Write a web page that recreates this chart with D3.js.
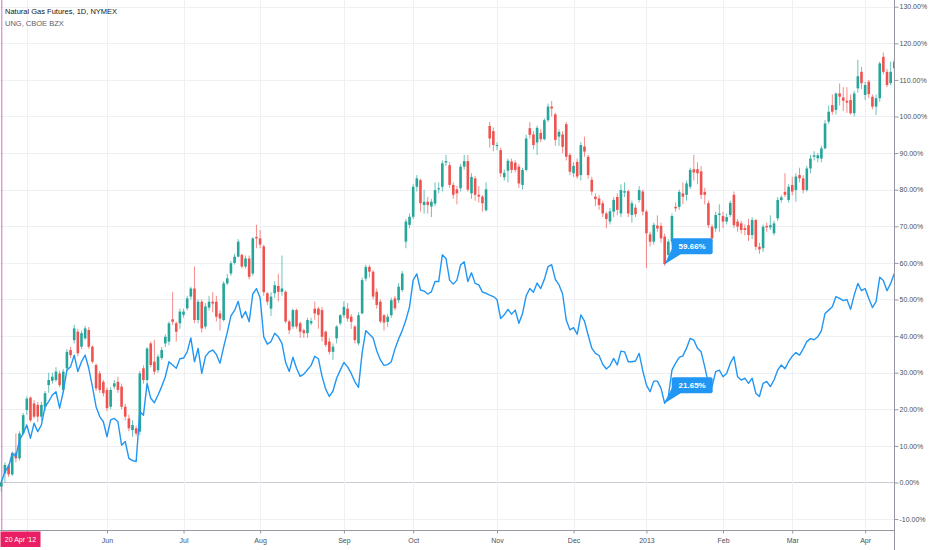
<!DOCTYPE html>
<html>
<head>
<meta charset="utf-8">
<script src="https://cdn.jsdelivr.net/npm/d3@7"></script>
<style>
  body { margin: 0; background: #fff; }
  text { font-family: "Liberation Sans", Arial, sans-serif; }
</style>
</head>
<body>
<div id="chart"></div>
<script>
// natural gas futures (candles) and UNG (line), % change from the 20 Apr 2012 close
var startDate = "2012-04-20"
var holidays = ["2012-05-28", "2012-07-04", "2012-09-03", "2012-11-22", "2012-12-25",
    "2013-01-01", "2013-01-21", "2013-02-18", "2013-03-29"]

var ngOpen = [
    -1.1, 2.5, 4.6, 2.2, 8.2, 6.6, 13.4, 19.8, 23.2, 21.6,
    21.2, 18.0, 20.7, 26.6, 27.8, 28.0, 29.8, 25.3, 31.2, 36.2,
    38.9, 41.2, 37.1, 39.4, 41.7, 37.1, 32.1, 29.8, 27.5, 25.3,
    20.7, 26.2, 27.5, 26.2, 20.7, 17.5, 14.3, 14.8, 13.9, 31.2,
    28.0, 38.0, 33.0, 30.7, 34.0, 38.0, 38.5, 44.6, 43.5, 43.5,
    45.8, 47.6, 50.8, 53.0, 44.4, 49.4, 42.6, 47.8, 49.4, 49.4,
    46.2, 44.4, 54.4, 57.1, 60.0, 61.7, 62.2, 59.0, 61.2, 57.1,
    67.1, 66.7, 64.5, 51.7, 47.5, 51.7, 53.7, 52.1, 52.1, 44.0,
    42.6, 47.1, 43.5, 41.6, 40.8, 43.5, 47.5, 47.5, 47.1, 41.2,
    38.5, 35.7, 39.4, 43.5, 45.7, 47.5, 45.3, 42.6, 38.0, 46.2,
    55.7, 58.9, 57.6, 52.1, 49.4, 45.7, 43.9, 45.7, 50.3, 49.8,
    52.6, 65.8, 70.4, 72.6, 80.8, 82.6, 75.8, 76.7, 75.4, 76.2,
    80.1, 80.8, 87.4, 86.7, 81.3, 80.1, 80.4, 86.3, 87.8, 79.0,
    83.1, 78.6, 78.1, 74.4, 97.4, 96.0, 91.9, 90.8, 83.4, 85.2,
    87.7, 87.4, 86.3, 81.3, 85.4, 96.8, 95.1, 92.9, 95.5, 93.8,
    99.0, 102.7, 100.6, 94.5, 95.1, 97.9, 89.5, 84.5, 87.6, 84.0,
    91.8, 89.0, 82.7, 78.1, 77.6, 76.3, 73.5, 71.3, 74.0, 78.0,
    73.5, 79.2, 79.6, 73.1, 75.1, 77.2, 79.5, 74.0, 67.8, 65.8,
    70.2, 70.1, 67.2, 62.2, 65.8, 75.3, 75.3, 79.0, 78.6, 80.8,
    85.6, 85.6, 85.0, 79.4, 76.3, 69.9, 69.4, 73.1, 72.8, 71.3,
    73.1, 78.6, 71.3, 70.8, 69.5, 70.3, 67.6, 71.7, 64.4, 64.0,
    70.1, 69.7, 68.1, 72.2, 77.2, 79.4, 77.2, 81.3, 79.9, 84.0,
    83.1, 79.9, 85.8, 89.0, 88.6, 88.5, 91.3, 98.6, 103.1, 101.8,
    106.3, 105.2, 104.3, 104.5, 100.9, 107.7, 112.2, 105.9, 109.5, 105.4,
    102.7, 105.0, 116.3, 112.2, 109.1, 113.2]

var ngHigh = [
    0.5, 5.5, 5.0, 8.5, 13.4, 14.0, 19.0, 23.5, 23.5, 22.5,
    22.0, 22.0, 25.0, 30.0, 30.0, 31.5, 30.5, 31.0, 36.5, 37.0,
    43.1, 42.0, 41.5, 42.8, 42.5, 37.5, 32.5, 30.5, 28.0, 26.0,
    26.0, 28.0, 28.9, 27.0, 21.5, 18.5, 17.0, 15.5, 30.5, 32.0,
    37.0, 38.5, 39.0, 35.0, 37.0, 40.5, 44.0, 52.0, 44.0, 47.5,
    47.5, 51.0, 53.5, 59.0, 50.0, 50.0, 49.0, 51.0, 52.0, 51.0,
    47.0, 55.0, 57.0, 60.5, 62.5, 66.5, 62.5, 62.0, 62.0, 67.0,
    70.4, 69.0, 65.0, 52.0, 52.0, 55.0, 57.0, 62.0, 52.5, 44.5,
    47.5, 47.5, 44.0, 42.0, 45.0, 45.0, 49.4, 48.0, 48.0, 41.5,
    39.5, 38.0, 43.0, 46.0, 49.5, 49.0, 46.0, 43.0, 46.5, 56.0,
    59.5, 59.5, 58.0, 53.0, 50.0, 46.0, 46.0, 50.5, 51.0, 54.5,
    57.8, 72.0, 73.5, 81.5, 84.0, 83.0, 80.0, 78.0, 77.5, 82.0,
    82.0, 88.0, 89.5, 87.5, 82.0, 81.0, 87.0, 89.5, 89.5, 84.5,
    83.8, 81.0, 78.5, 82.0, 98.5, 97.0, 93.0, 91.5, 85.5, 88.5,
    88.5, 88.0, 87.0, 86.0, 95.0, 98.5, 96.0, 97.5, 96.5, 99.5,
    103.5, 104.2, 101.0, 96.5, 96.0, 98.5, 90.0, 87.5, 88.5, 93.0,
    94.5, 89.5, 83.5, 79.0, 78.5, 77.0, 74.0, 75.0, 78.0, 79.0,
    81.5, 82.0, 80.0, 77.0, 76.0, 81.0, 80.0, 74.5, 68.5, 71.0,
    73.0, 71.0, 68.0, 66.5, 73.5, 76.5, 80.0, 82.0, 82.5, 86.0,
    89.5, 87.5, 86.5, 80.5, 77.0, 70.5, 74.0, 76.0, 74.0, 73.5,
    77.0, 79.5, 72.0, 71.5, 70.5, 72.0, 72.5, 72.0, 65.5, 70.5,
    71.0, 73.0, 71.5, 78.0, 78.5, 84.5, 81.5, 83.5, 84.5, 86.0,
    84.0, 86.5, 89.5, 90.5, 90.0, 92.0, 99.0, 103.0, 106.0, 106.5,
    109.0, 108.0, 108.0, 106.0, 107.0, 115.5, 113.5, 109.5, 110.0, 106.0,
    106.0, 115.0, 117.5, 113.0, 115.0, 116.0]

var ngLow = [
    -2.5, 0.0, 1.5, 1.8, 5.5, 6.0, 13.0, 18.5, 16.5, 17.5,
    16.5, 17.0, 19.5, 24.5, 27.0, 27.5, 26.0, 24.5, 30.5, 34.0,
    38.0, 34.5, 36.5, 39.0, 36.5, 32.5, 25.0, 24.5, 23.5, 19.5,
    20.0, 25.5, 24.5, 20.0, 17.0, 14.0, 12.5, 12.8, 13.0, 27.0,
    27.5, 31.5, 29.5, 30.0, 33.5, 37.0, 37.5, 43.0, 38.5, 42.0,
    45.0, 47.0, 50.0, 43.5, 43.5, 41.0, 42.0, 47.0, 46.5, 44.0,
    41.5, 44.0, 54.0, 56.5, 59.5, 61.5, 58.5, 58.5, 55.5, 56.5,
    64.0, 64.0, 51.0, 48.5, 45.5, 50.5, 49.5, 51.0, 43.5, 40.5,
    42.0, 42.0, 39.5, 39.5, 39.5, 43.0, 44.5, 42.0, 38.5, 37.0,
    35.0, 33.5, 38.0, 43.0, 45.0, 44.0, 42.0, 38.0, 37.5, 46.0,
    55.0, 56.0, 50.0, 47.5, 43.5, 41.5, 42.5, 45.0, 47.0, 49.0,
    52.0, 64.0, 69.5, 72.0, 79.5, 74.0, 73.5, 73.5, 72.5, 75.5,
    79.0, 79.5, 86.5, 80.5, 77.5, 76.0, 79.5, 85.5, 79.5, 77.5,
    77.0, 76.5, 74.0, 74.0, 91.5, 90.5, 90.8, 83.5, 82.5, 82.0,
    84.5, 84.7, 80.5, 80.0, 85.0, 94.0, 91.0, 89.5, 93.0, 93.5,
    98.5, 100.0, 92.0, 92.0, 90.0, 88.0, 84.0, 83.5, 83.0, 82.5,
    89.0, 83.0, 78.5, 75.5, 74.5, 72.5, 69.5, 70.5, 72.5, 73.0,
    72.5, 78.0, 72.5, 71.0, 72.5, 76.5, 73.0, 58.6, 64.5, 65.0,
    68.5, 65.5, 59.2, 60.5, 65.0, 74.0, 74.5, 76.0, 77.0, 80.2,
    82.5, 81.5, 77.5, 76.0, 69.5, 66.0, 68.5, 68.5, 69.5, 70.5,
    72.5, 69.5, 68.5, 68.0, 67.5, 66.0, 66.5, 63.5, 62.5, 63.0,
    68.5, 69.0, 67.5, 71.5, 76.5, 78.0, 76.5, 78.5, 76.7, 82.0,
    79.0, 79.5, 84.5, 88.0, 87.5, 87.5, 91.0, 98.0, 100.5, 100.5,
    103.0, 101.5, 101.0, 100.5, 100.0, 106.5, 107.5, 104.5, 105.0, 102.0,
    100.4, 104.0, 111.5, 108.0, 108.5, 112.5]

var ngClose = [
    0, 4.8, 2.2, 8.0, 6.6, 13.4, 18.4, 22.9, 17.0, 18.0,
    18.0, 21.2, 24.4, 28.0, 28.9, 30.3, 26.6, 30.3, 35.7, 34.8,
    42.1, 35.3, 40.8, 42.1, 37.1, 33.0, 25.7, 25.3, 24.4, 20.3,
    25.3, 27.1, 25.3, 20.7, 18.0, 14.8, 15.7, 13.4, 29.8, 28.0,
    36.6, 32.1, 30.3, 34.4, 36.2, 39.8, 43.5, 43.9, 41.2, 46.7,
    46.7, 50.3, 53.0, 44.4, 49.4, 42.1, 48.1, 49.4, 48.9, 45.3,
    44.8, 54.4, 55.8, 59.9, 61.7, 65.8, 59.0, 61.2, 56.2, 66.7,
    66.7, 65.0, 52.0, 49.4, 50.8, 53.9, 52.1, 53.0, 44.0, 41.6,
    47.1, 42.6, 41.2, 40.8, 44.4, 44.1, 46.2, 45.8, 39.8, 37.6,
    35.7, 37.1, 42.6, 45.7, 48.0, 44.8, 43.9, 38.9, 45.7, 55.3,
    58.9, 57.6, 50.8, 48.5, 44.0, 43.7, 45.3, 49.8, 47.6, 53.5,
    57.1, 71.3, 72.6, 80.8, 83.1, 76.3, 76.7, 75.8, 76.7, 79.9,
    80.4, 87.2, 87.8, 81.3, 78.6, 79.0, 86.3, 87.8, 80.0, 83.5,
    78.6, 78.1, 76.3, 80.1, 94.0, 92.2, 92.2, 84.5, 84.6, 87.9,
    85.4, 85.4, 81.7, 85.4, 94.0, 95.0, 92.2, 96.9, 93.8, 99.0,
    102.7, 102.2, 93.6, 95.8, 91.7, 89.0, 84.9, 86.5, 83.6, 92.2,
    90.4, 84.0, 79.5, 77.4, 75.8, 73.5, 72.0, 74.1, 77.2, 74.5,
    79.9, 79.6, 73.5, 76.3, 73.3, 79.9, 74.0, 68.1, 65.8, 70.4,
    69.4, 66.7, 59.66, 65.8, 72.8, 74.9, 79.4, 78.1, 81.7, 85.4,
    84.7, 84.5, 78.6, 78.6, 70.3, 66.7, 73.1, 73.5, 71.3, 72.5,
    76.4, 70.3, 69.9, 69.0, 69.0, 67.6, 71.7, 64.4, 63.7, 69.9,
    69.7, 70.3, 70.8, 77.2, 77.9, 78.6, 80.8, 79.5, 83.6, 83.1,
    79.9, 85.8, 88.5, 89.4, 89.4, 91.3, 98.1, 101.3, 101.3, 106.3,
    105.4, 104.3, 103.8, 100.9, 106.3, 111.0, 109.1, 108.6, 106.1, 102.7,
    105.0, 114.5, 112.2, 108.6, 112.2, 115.0]

var ungValues = [
    0, 3.0, 4.3, 8.0, 7.1, 11.6, 13.4, 15.7, 12.1, 16.2,
    13.9, 15.7, 20.7, 22.1, 23.9, 24.8, 20.3, 24.8, 30.7, 31.6,
    34.8, 30.3, 33.0, 34.8, 31.2, 26.2, 20.7, 18.0, 16.6, 12.5,
    17.1, 17.5, 16.6, 10.2, 11.2, 6.6, 6.0, 5.7, 19.4, 18.4,
    27.1, 23.0, 21.8, 23.9, 26.2, 28.9, 33.0, 32.1, 31.2, 33.8,
    34.0, 35.7, 39.5, 33.0, 36.6, 29.8, 34.4, 35.7, 36.2, 35.0,
    32.6, 37.0, 41.0, 45.5, 47.0, 49.5, 45.0, 46.7, 43.9, 51.5,
    53.0, 50.5, 39.8, 37.8, 38.5, 40.8, 39.8, 38.0, 32.8, 30.3,
    34.2, 31.2, 29.0, 29.6, 30.8, 32.0, 34.5, 33.8, 29.0, 25.5,
    23.5, 25.0, 28.5, 30.7, 32.8, 31.6, 29.8, 27.5, 26.0, 35.5,
    41.5, 40.5, 39.5, 36.0, 33.5, 32.0, 32.2, 33.0, 36.5, 39.2,
    41.5, 44.4, 48.0, 55.3, 57.0, 52.6, 52.3, 51.5, 52.1, 54.9,
    54.9, 62.2, 61.2, 55.3, 54.2, 55.3, 59.4, 60.3, 54.9, 57.3,
    54.4, 54.0, 52.0, 51.7, 51.2, 50.8, 50.0, 44.8, 45.8, 47.3,
    46.0, 47.1, 43.5, 46.2, 51.0, 53.0, 52.0, 54.5, 53.0, 55.5,
    59.0, 59.5, 55.5, 54.0, 51.5, 44.4, 41.7, 42.3, 40.5, 45.8,
    44.1, 40.3, 36.7, 35.3, 34.7, 32.3, 31.0, 31.9, 33.9, 32.1,
    35.9, 35.7, 33.0, 33.0, 33.2, 35.3, 30.5, 26.6, 24.8, 27.7,
    27.7, 25.7, 21.65, 23.5, 30.7, 32.6, 34.2, 34.6, 36.7, 39.4,
    38.9, 36.7, 35.7, 31.6, 27.1, 26.2, 30.3, 30.7, 28.9, 29.8,
    32.6, 34.4, 28.9, 28.0, 28.5, 27.1, 28.5, 24.4, 23.5, 27.1,
    27.6, 26.2, 28.0, 30.7, 32.1, 31.1, 33.0, 34.5, 35.5, 34.8,
    36.5, 38.5, 39.3, 39.0, 39.8, 41.5, 46.2, 47.1, 48.0, 50.8,
    50.3, 49.7, 50.0, 47.3, 51.2, 54.4, 52.4, 53.0, 50.3, 47.8,
    49.4, 56.1, 55.2, 52.4, 54.4, 57.1]

var yTicks = [-10, 0, 10, 20, 30, 40, 50, 60, 70, 80, 90, 100, 110, 120, 130]
var titleLines = ["Natural Gas Futures, 1D, NYMEX", "UNG, CBOE BZX"]
// bar that carries the two blue value notes
var noteBar = 182

var width = 932, height = 550
var plotRight = 894.5, plotBottom = 530.5
var dateBoxWidth = 40

var svg = d3.select("#chart")
    .append("svg")
    .attr("width", width)
    .attr("height", height)
    .style("display", "block")

// trading days from the start date, weekends and exchange holidays skipped
var parseDay = d3.utcParse("%Y-%m-%d"), fmtDay = d3.utcFormat("%Y-%m-%d")
var dates = []
var day = parseDay(startDate)
while (dates.length < ngClose.length) {
    var wd = day.getUTCDay()
    if (wd != 0 && wd != 6 && holidays.indexOf(fmtDay(day)) < 0) dates.push(day)
    day = d3.utcDay.offset(day, 1)
}
var monthTicks = dates.filter(function(d, i) {
    return i > 0 && d.getUTCMonth() != dates[i - 1].getUTCMonth()
})

var x = d3.scalePoint()
    .domain(dates)
    .range([1.3, 894.3])

var y = d3.scaleLinear()
    .domain([-12.98, 131.83])
    .range([530, 0])

svg.append("defs").append("clipPath")
    .attr("id", "plotClip")
    .append("rect")
    .attr("x", 0).attr("y", 0)
    .attr("width", plotRight).attr("height", plotBottom)

// grid
var grid = svg.append("g")
grid.selectAll("hgrid")
    .data(yTicks)
    .enter()
    .append("line")
    .attr("x1", 0).attr("x2", plotRight)
    .attr("y1", function(d) { return Math.round(y(d)) + 0.5 })
    .attr("y2", function(d) { return Math.round(y(d)) + 0.5 })
    .attr("stroke", function(d) { return d == 0 ? "#c9ccd3" : "#eef0f4" })
    .attr("stroke-width", function(d) { return d == 0 ? 1.2 : 1 })
grid.selectAll("vgrid")
    .data(monthTicks)
    .enter()
    .append("line")
    .attr("y1", 0).attr("y2", plotBottom)
    .attr("x1", function(d) { return Math.round(x(d)) + 0.5 })
    .attr("x2", function(d) { return Math.round(x(d)) + 0.5 })
    .attr("stroke", "#eef0f4")

// start marker line
svg.append("line")
    .attr("x1", x(dates[0]) + 0.5).attr("x2", x(dates[0]) + 0.5)
    .attr("y1", 0).attr("y2", plotBottom)
    .attr("stroke", "#cf72c2")
    .attr("stroke-width", 1)

var plot = svg.append("g").attr("clip-path", "url(#plotClip)")

// candles
var bars = dates.map(function(d, i) {
    return {date: d, o: ngOpen[i], h: ngHigh[i], l: ngLow[i], c: ngClose[i]}
})
var upColor = "#26a69a", downColor = "#ef5350"
var candle = plot.selectAll("candle")
    .data(bars)
    .enter()
    .append("g")
candle.append("line")
    .attr("x1", function(d) { return x(d.date) })
    .attr("x2", function(d) { return x(d.date) })
    .attr("y1", function(d) { return y(d.h) })
    .attr("y2", function(d) { return y(d.l) })
    .attr("stroke", function(d) { return d.c >= d.o ? upColor : downColor })
    .attr("stroke-width", 0.9)
    .attr("opacity", 0.75)
candle.append("rect")
    .attr("x", function(d) { return x(d.date) - 1.3 })
    .attr("width", 2.6)
    .attr("y", function(d) { return y(Math.max(d.o, d.c)) })
    .attr("height", function(d) { return Math.max(0.8, Math.abs(y(d.o) - y(d.c))) })
    .attr("fill", function(d) { return d.c >= d.o ? upColor : downColor })

// UNG line
plot.append("path")
    .datum(dates)
    .attr("fill", "none")
    .attr("stroke", "#2196f3")
    .attr("stroke-width", 1.4)
    .attr("stroke-linejoin", "round")
    .attr("d", d3.line()
        .x(function(d) { return x(d) })
        .y(function(d, i) { return y(ungValues[i]) })
    )

// value notes
var notes = [ngClose[noteBar], ungValues[noteBar]]
var note = svg.selectAll("note")
    .data(notes)
    .enter()
    .append("g")
    .attr("transform", function(d) {
        return "translate(" + x(dates[noteBar]) + "," + y(d) + ")"
    })
note.append("path")
    .attr("d", "M0,0 L7,-15 L16,-10 Z")
    .attr("fill", "#2196f3")
note.append("rect")
    .attr("x", 7).attr("y", -26)
    .attr("width", 41).attr("height", 16)
    .attr("rx", 2)
    .attr("fill", "#2196f3")
note.append("text")
    .attr("x", 27.5).attr("y", -18)
    .attr("dy", "0.35em")
    .attr("text-anchor", "middle")
    .attr("fill", "#fff")
    .attr("font-size", "8px")
    .attr("font-weight", "bold")
    .text(function(d) { return d.toFixed(2) + "%" })

// right axis
var yAxis = svg.append("g")
    .attr("transform", "translate(" + plotRight + ",0)")
    .call(d3.axisRight(y).tickValues(yTicks).tickSize(4).tickPadding(1)
        .tickFormat(function(d) { return d.toFixed(2) + "%" }))
yAxis.select(".domain").remove()
yAxis.selectAll(".tick line").attr("stroke", "#9598a1")
yAxis.selectAll(".tick text")
    .attr("fill", "#4c4f59")
    .attr("font-size", "7px")
    .attr("font-family", "Liberation Sans, Arial, sans-serif")

// bottom axis, the label under the start date box is left out
var xAxis = svg.append("g")
    .attr("transform", "translate(0," + plotBottom + ")")
    .call(d3.axisBottom(x).tickValues(monthTicks).tickSize(3).tickPadding(5)
        .tickFormat(function(d) {
            if (x(d) < dateBoxWidth + 8) return ""
            return d.getUTCMonth() == 0 ? d3.utcFormat("%Y")(d) : d3.utcFormat("%b")(d)
        }))
xAxis.select(".domain").remove()
xAxis.selectAll(".tick line").attr("stroke", "#9598a1")
xAxis.selectAll(".tick text")
    .attr("fill", "#4c4f59")
    .attr("font-size", "7px")
    .attr("font-family", "Liberation Sans, Arial, sans-serif")

svg.append("line")
    .attr("x1", 0).attr("x2", plotRight)
    .attr("y1", plotBottom).attr("y2", plotBottom)
    .attr("stroke", "#9598a1")
svg.append("line")
    .attr("x1", plotRight).attr("x2", plotRight)
    .attr("y1", 0).attr("y2", height)
    .attr("stroke", "#9598a1")

// start date label
svg.append("rect")
    .attr("x", 0.5).attr("y", 531.5)
    .attr("width", dateBoxWidth).attr("height", 15.5)
    .attr("fill", "#e91e63")
svg.append("text")
    .attr("x", 0.5 + dateBoxWidth / 2).attr("y", 539.3)
    .attr("dy", "0.35em")
    .attr("text-anchor", "middle")
    .attr("fill", "#fff")
    .attr("font-size", "7px")
    .text(d3.utcFormat("%-d %b '%y")(dates[0]))

// legend titles
svg.selectAll("title-line")
    .data(titleLines)
    .enter()
    .append("text")
    .attr("x", 5)
    .attr("y", function(d, i) { return 13.5 + i * 12 })
    .attr("fill", function(d, i) { return i == 0 ? "#131722" : "#5d606b" })
    .attr("font-size", "7.5px")
    .text(function(d) { return d })
</script>
</body>
</html>
